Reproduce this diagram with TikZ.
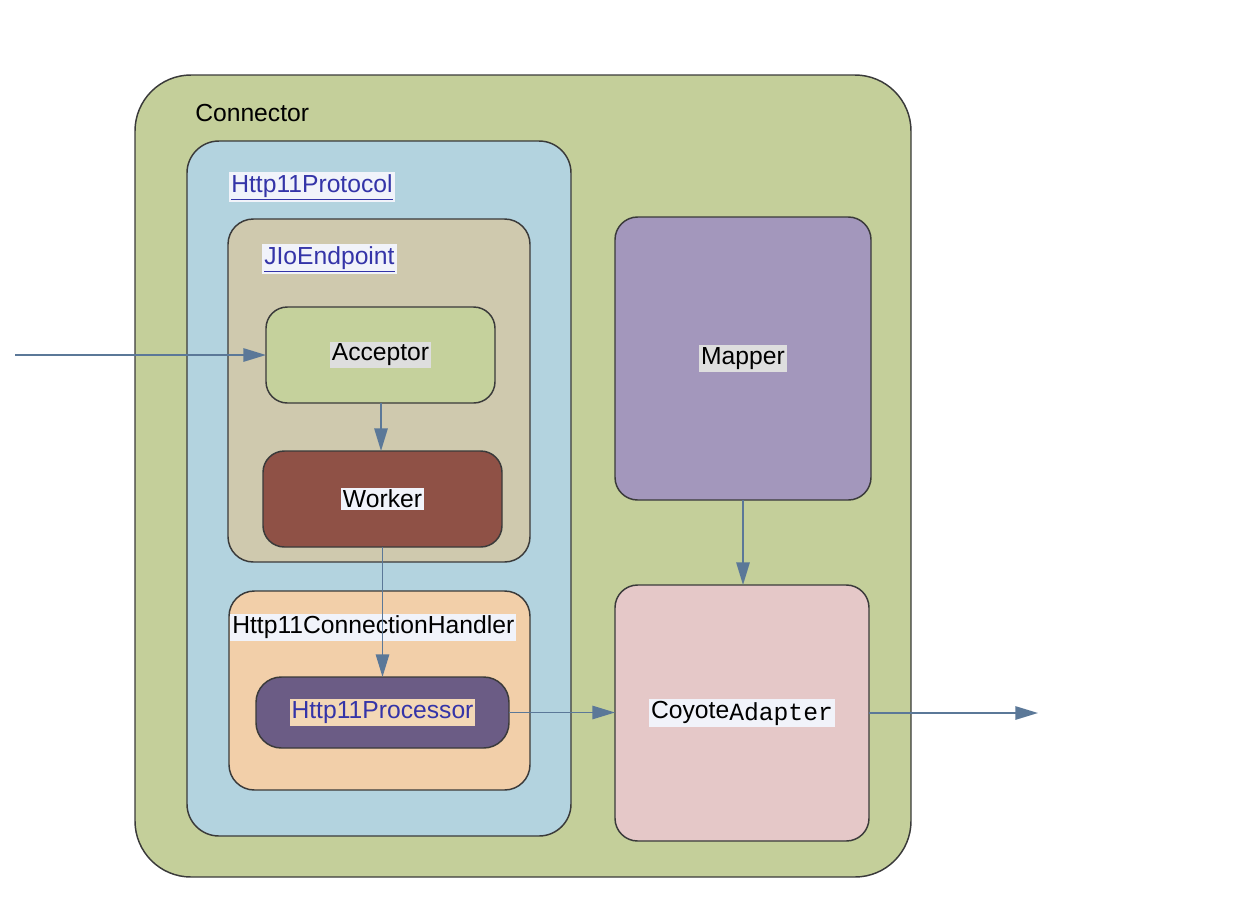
\documentclass[tikz,border=0pt]{standalone}
\usepackage{fontspec}
\setmainfont{Liberation Sans}
\setmonofont{Liberation Mono}
\usetikzlibrary{arrows.meta}
\definecolor{cgreen}{HTML}{C4CF9A}
\definecolor{cblue}{HTML}{B3D3DF}
\definecolor{ctan}{HTML}{CFC9AE}
\definecolor{cacc}{HTML}{C5D19C}
\definecolor{cwork}{HTML}{8F5146}
\definecolor{cpeach}{HTML}{F2CFA9}
\definecolor{cproc}{HTML}{6B5C85}
\definecolor{cmap}{HTML}{A397BC}
\definecolor{cadapt}{HTML}{E5C8C8}
\definecolor{cborder}{HTML}{3A3A3A}
\definecolor{carrow}{HTML}{5B7898}
\definecolor{clink}{HTML}{3434A8}
\definecolor{cwhite}{HTML}{F1F3FA}
\definecolor{cgray}{HTML}{DEDEDE}
\definecolor{cpeachlbl}{HTML}{F3D8B6}
\tikzset{
  x=0.75pt, y=-0.75pt,
  box/.style={draw=cborder, line width=1.1pt, inner sep=0pt, outer sep=0pt},
  lbl/.style={inner sep=1.5pt, font=\fontsize{18.5}{20}\selectfont, text=black},
  link/.style={lbl, text=clink},
  flow/.style={draw=carrow, line width=1.4pt, -{Triangle[length=17pt,width=10pt]}},
}
\begin{document}
\begin{tikzpicture}
\useasboundingbox (0,0) rectangle (1250,904);
% containers
\node[box, fill=cgreen, rounded corners=42pt, minimum width=776*0.75pt, minimum height=802*0.75pt] (conn) at (523,476) {};
\node[lbl, anchor=west] (connlbl) at (193,113) {Connector};
\node[box, fill=cblue, rounded corners=24pt, minimum width=384*0.75pt, minimum height=695*0.75pt] (proto) at (379,488.5) {};
\node[link, fill=cwhite, anchor=west] (protolbl) at (229,187) {\underline{Http11Protocol}};
\node[box, fill=ctan, rounded corners=19pt, minimum width=302*0.75pt, minimum height=343*0.75pt] (endp) at (379,390.5) {};
\node[link, fill=cwhite, anchor=west] (endplbl) at (262,259) {\underline{JIoEndpoint}};
\node[box, fill=cacc, rounded corners=16pt, minimum width=229*0.75pt, minimum height=96*0.75pt] (acc) at (380.5,355) {};
\node[lbl, fill=cgray] (acclbl) at (acc) {Acceptor};
\node[box, fill=cwork, rounded corners=16pt, minimum width=239*0.75pt, minimum height=96*0.75pt] (work) at (382.5,499) {};
\node[lbl, fill=cwhite] (worklbl) at (work) {Worker};
\node[box, fill=cpeach, rounded corners=19pt, minimum width=301*0.75pt, minimum height=199*0.75pt] (hand) at (379.5,690.5) {};
\node[lbl, fill=cwhite, anchor=west] (handlbl) at (230,627) {Http11ConnectionHandler};
\node[box, fill=cproc, rounded corners=19pt, minimum width=253*0.75pt, minimum height=71*0.75pt] (proc) at (382.5,712.5) {};
\node[link, fill=cpeachlbl] (proclbl) at (proc) {Http11Processor};
\node[box, fill=cmap, rounded corners=17pt, minimum width=256*0.75pt, minimum height=283*0.75pt] (map) at (743,358.5) {};
\node[lbl, fill=cgray] (maplbl) at (map) {Mapper};
\node[box, fill=cadapt, rounded corners=17pt, minimum width=254*0.75pt, minimum height=256*0.75pt] (adapt) at (742,713) {};
\node[lbl, fill=cwhite] (adaptlbl) at (adapt) {Coyote\raisebox{-1.5pt}{\ttfamily Adapter}};
% connectors
\coordinate (in) at (15,355);
\coordinate (out) at (1038,713);
\draw[flow] (in) -- (acc.west);
\draw[flow] (acc.south -| 381,0) -- (work.north -| 381,0);
\draw[flow] (work.south) -- (proc.north);
\draw[flow] (proc.east) -- (adapt.west |- proc.east);
\draw[flow] (map.south) -- (adapt.north -| map.south);
\draw[flow] (adapt.east) -- (out);
\end{tikzpicture}
\end{document}
